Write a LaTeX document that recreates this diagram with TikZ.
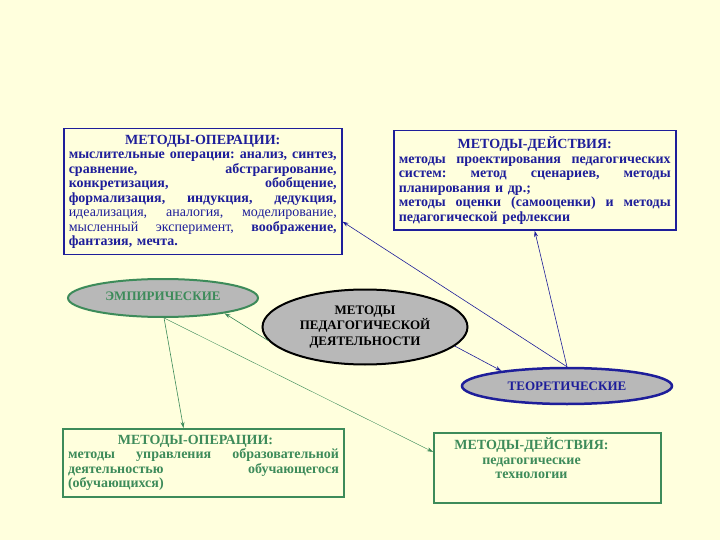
\documentclass[tikz,border=0pt]{standalone}
\usepackage{fontspec}
\setmainfont{Liberation Serif}
\usetikzlibrary{shapes.geometric,arrows.meta}
\definecolor{bgyellow}{HTML}{FFFFDD}
\definecolor{navy}{HTML}{1E1E9A}
\definecolor{leaf}{HTML}{3D8B5A}
\definecolor{oval}{HTML}{B8B8B8}
% full-width justified line / centred title
\newcommand{\fline}[1]{{\spaceskip=0pt\xspaceskip=0pt\makebox[\hsize][s]{#1}}}
\newcommand{\ctitle}[1]{\makebox[\hsize]{#1}}
\newcommand{\lctitle}[1]{\makebox[\hsize]{\hspace*{-32pt}#1}}
\frenchspacing
\tikzset{
  methodbox/.style={draw, line width=1.5pt, anchor=north west, align=left,
    inner xsep=5pt, inner ysep=6pt, font=\bfseries\fontsize{14}{14.5}\selectfont},
  kindoval/.style={ellipse, draw, line width=2pt, fill=oval, inner sep=0pt,
    font=\bfseries\fontsize{13}{15.5}\selectfont},
  link/.style={line width=0.6pt, -{Stealth[length=6pt,width=4pt]}}
}
\begin{document}
\begin{tikzpicture}[x=1pt,y=-1pt]
   \useasboundingbox[fill=bgyellow] (0,0) rectangle (720,540);
   % boxes
   \node[methodbox, draw=navy, text=navy, text width=268pt] (opT) at (63,128)
     {\ctitle{МЕТОДЫ-ОПЕРАЦИИ:}\\
      \fline{мыслительные операции: анализ, синтез,}\\
      \fline{сравнение, абстрагирование,}\\
      \fline{конкретизация, обобщение,}\\
      \fline{формализация, индукция, дедукция,}\\
      \fline{\mdseries идеализация, аналогия, моделирование,}\\
      \fline{{\mdseries мысленный эксперимент,} воображение,}\\
      фантазия, мечта.};
   \node[methodbox, draw=navy, text=navy, text width=272pt] (actT) at (393,130)
     {\ctitle{МЕТОДЫ-ДЕЙСТВИЯ:}\\
      \fline{методы проектирования педагогических}\\
      \fline{систем: метод сценариев, методы}\\
      планирования и др.;\\
      \fline{методы оценки (самооценки) и методы}\\
      педагогической рефлексии};
   \node[methodbox, draw=leaf, text=leaf, line width=2pt, text width=271pt] (opB) at (62,428)
     {\lctitle{\hspace*{16pt}МЕТОДЫ-ОПЕРАЦИИ:}\\
      \fline{методы управления образовательной}\\
      \fline{деятельностью обучающегося}\\
      (обучающихся)};
   \node[methodbox, draw=leaf, text=leaf, line width=2pt, text width=217pt,
     inner ysep=5pt] (actB) at (433,432)
     {\lctitle{МЕТОДЫ-ДЕЙСТВИЯ:}\\
      \lctitle{педагогические}\\
      \lctitle{технологии}\\
      \strut};
   % ovals
   \node[kindoval, draw=leaf, text=leaf, minimum width=190pt, minimum height=38pt]
     (emp) at (163,298) {\raisebox{3pt}{ЭМПИРИЧЕСКИЕ}};
   \node[kindoval, draw=black, minimum width=205pt, minimum height=75pt, align=center]
     (main) at (365,327) {МЕТОДЫ\\ПЕДАГОГИЧЕСКОЙ\\ДЕЯТЕЛЬНОСТИ};
   \node[kindoval, draw=navy, text=navy, line width=2.5pt, minimum width=210pt,
     minimum height=36pt] (theo) at (567,386) {ТЕОРЕТИЧЕСКИЕ};
   % links
   \draw[link, leaf] (main.188) -- (emp.-14);
   \draw[link, leaf] (emp.-87) -- ([xshift=-20pt]opB.north);
   \draw[link, leaf, line width=0.4pt] (emp.-87) -- ([yshift=16pt]actB.west);
   \draw[link, navy] (main.-12) -- (theo.167);
   \draw[link, navy] (theo.north) -- ([yshift=-30pt]opT.east);
   \draw[link, navy] (theo.north) -- (actT.south);
\end{tikzpicture}
\end{document}
